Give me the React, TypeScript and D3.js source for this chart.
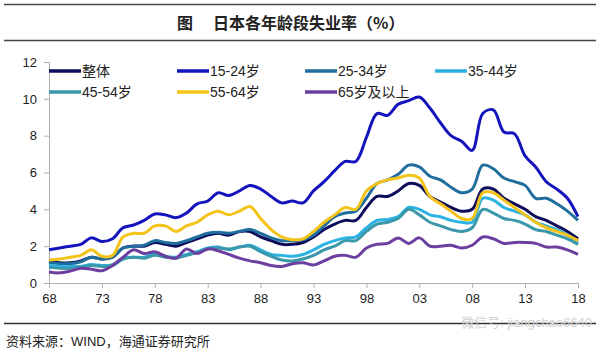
import React, { useEffect, useRef } from 'react'
import * as d3 from 'd3'

const years = d3.range(1968, 2019)
const xTickYears = [1968, 1973, 1978, 1983, 1988, 1993, 1998, 2003, 2008, 2013, 2018]
const yTicks = [0, 2, 4, 6, 8, 10, 12]

const seriesNames = ['整体', '15-24岁', '25-34岁', '35-44岁', '45-54岁', '55-64岁', '65岁及以上']
const seriesColors = ['#0d0d5c', '#1414bd', '#1f6e9e', '#2ab2e2', '#3b97aa', '#f4c31a', '#6b3fa0']

const overall = [1.2, 1.1, 1.1, 1.2, 1.4, 1.3, 1.4, 1.9, 2.0, 2.0, 2.2, 2.1, 2.0, 2.2, 2.4, 2.6, 2.7, 2.6, 2.8, 2.8,
  2.5, 2.3, 2.1, 2.1, 2.2, 2.5, 2.9, 3.2, 3.4, 3.4, 4.1, 4.7, 4.7, 5.0, 5.4, 5.3, 4.7, 4.4, 4.1, 3.9,
  4.0, 5.1, 5.1, 4.6, 4.3, 4.0, 3.6, 3.4, 3.1, 2.8, 2.4]
const age1524 = [1.8, 1.9, 2.0, 2.1, 2.45, 2.25, 2.4, 3.0, 3.15, 3.4, 3.75, 3.7, 3.55, 3.8, 4.3, 4.45, 4.9, 4.75, 5.0, 5.3,
  5.1, 4.7, 4.35, 4.45, 4.35, 5.0, 5.5, 6.1, 6.6, 6.6, 7.9, 9.2, 9.1, 9.7, 9.9, 10.1, 9.5, 8.7, 8.0, 7.7,
  7.2, 9.2, 9.4, 8.2, 8.1, 6.9, 6.3, 5.5, 5.1, 4.6, 3.6]
const age2534 = [1.1, 1.05, 1.05, 1.15, 1.4, 1.3, 1.4, 1.9, 2.0, 2.05, 2.3, 2.2, 2.15, 2.3, 2.5, 2.7, 2.75, 2.7, 2.8, 2.9,
  2.7, 2.45, 2.3, 2.3, 2.35, 2.6, 3.1, 3.6, 3.8, 3.9, 4.6, 5.4, 5.6, 5.9, 6.4, 6.3, 5.8, 5.6, 5.2, 4.9,
  5.1, 6.4, 6.2, 5.7, 5.5, 5.3, 4.6, 4.6, 4.3, 3.9, 3.4]
const age3544 = [0.95, 0.9, 0.9, 0.9, 1.0, 0.95, 1.0, 1.35, 1.4, 1.4, 1.6, 1.45, 1.4, 1.55, 1.7, 1.9, 1.95, 1.8, 1.95, 2.05,
  1.8, 1.55, 1.5, 1.45, 1.55, 1.8, 2.1, 2.3, 2.45, 2.5, 3.0, 3.4, 3.45, 3.6, 4.1, 4.0, 3.7, 3.6, 3.4, 3.3,
  3.3, 4.6, 4.5, 4.1, 3.9, 3.7, 3.3, 3.1, 2.9, 2.6, 2.2]
const age4554 = [0.85, 0.8, 0.8, 0.85, 0.95, 0.9, 0.95, 1.3, 1.4, 1.35, 1.5, 1.4, 1.35, 1.5, 1.65, 1.85, 1.9, 1.85, 1.95, 2.0,
  1.7, 1.45, 1.25, 1.2, 1.3, 1.5, 1.8, 2.0, 2.3, 2.3, 2.8, 3.2, 3.3, 3.5, 4.0, 3.7, 3.3, 3.1, 2.9, 2.8,
  3.0, 4.0, 3.8, 3.5, 3.4, 3.2, 2.9, 2.8, 2.6, 2.4, 2.1]
const age5564 = [1.25, 1.3, 1.4, 1.5, 1.8, 1.45, 1.5, 2.5, 2.7, 2.7, 3.1, 3.1, 2.8, 3.1, 3.3, 3.7, 3.9, 3.7, 3.9, 4.15,
  3.5, 2.9, 2.5, 2.35, 2.4, 2.8, 3.3, 3.7, 4.1, 4.0, 5.0, 5.4, 5.6, 5.7, 5.85, 5.7, 4.7, 4.3, 3.9, 3.5,
  3.5, 4.9, 4.9, 4.5, 4.1, 3.7, 3.3, 3.0, 2.8, 2.6, 2.3]
const age65 = [0.6, 0.55, 0.65, 0.8, 0.75, 0.67, 0.95, 1.4, 1.8, 1.6, 1.7, 1.45, 1.35, 1.85, 1.6, 1.85, 1.75, 1.55, 1.35, 1.2,
  1.1, 0.95, 0.9, 1.05, 1.1, 0.98, 1.2, 1.45, 1.5, 1.4, 1.9, 2.1, 2.15, 2.45, 2.15, 2.45, 2.0, 2.0, 2.05, 1.9,
  2.05, 2.5, 2.4, 2.15, 2.2, 2.2, 2.15, 1.95, 1.95, 1.8, 1.55]

const seriesValues = [overall, age1524, age2534, age3544, age4554, age5564, age65]

export default function App() {
  const svgRef = useRef<SVGSVGElement>(null)
  const width = 600
  const height = 354

  useEffect(() => {
    if (!svgRef.current) return
    const svg = d3.select(svgRef.current)
    svg.selectAll('*').remove()

    const font = 'Arial, "Liberation Sans", "Noto Sans CJK SC", sans-serif'
    const cjk = '"Noto Sans CJK SC", sans-serif'

    // Title block
    svg.append('line').attr('x1', 4).attr('x2', 596).attr('y1', 4.5).attr('y2', 4.5)
      .attr('stroke', '#444').attr('stroke-width', 1.5)
    svg.append('line').attr('x1', 4).attr('x2', 596).attr('y1', 40.5).attr('y2', 40.5)
      .attr('stroke', '#444').attr('stroke-width', 1.5)
    svg.append('text').attr('x', 177).attr('y', 28.5)
      .attr('font-family', cjk).attr('font-size', 16).attr('font-weight', 'bold').attr('fill', '#222')
      .text('图')
    svg.append('text').attr('x', 213).attr('y', 28.5)
      .attr('font-family', cjk).attr('font-size', 16).attr('font-weight', 'bold').attr('fill', '#222')
      .text('日本各年龄段失业率（%）')

    const x = d3.scaleLinear().domain([1968, 2018]).range([49, 578])
    const y = d3.scaleLinear().domain([0, 12]).range([283, 62])

    // Y axis
    const yAxis = svg.append('g').attr('transform', 'translate(49,0)')
      .call(d3.axisLeft(y).tickValues(yTicks).tickSize(5).tickPadding(7))
    yAxis.select('.domain').attr('stroke', '#b0b0b0')
    yAxis.selectAll('.tick line').attr('stroke', '#b0b0b0')
    yAxis.selectAll('.tick text').attr('font-family', font).attr('font-size', 13).attr('fill', '#222')

    // X axis
    const xAxis = svg.append('g').attr('transform', 'translate(0,283)')
      .call(d3.axisBottom(x).tickValues(xTickYears).tickSize(5).tickPadding(6)
        .tickFormat(d => String(d).slice(2)))
    xAxis.select('.domain').attr('stroke', '#b0b0b0')
    xAxis.selectAll('.tick line').attr('stroke', '#b0b0b0')
    xAxis.selectAll('.tick text').attr('font-family', font).attr('font-size', 13).attr('fill', '#222')

    // Lines
    const line = d3.line<number>()
      .x((_, i) => x(years[i]))
      .y(d => y(d))
      .curve(d3.curveCatmullRom.alpha(0.5))

    seriesValues.forEach((vals, i) => {
      svg.append('path').datum(vals)
        .attr('d', line)
        .attr('fill', 'none')
        .attr('stroke', seriesColors[i])
        .attr('stroke-width', 3)
        .attr('stroke-linejoin', 'round')
    })

    // Legend
    const legendCols = [49, 177, 305, 435]
    const legendRows = [71, 92]
    seriesNames.forEach((name, i) => {
      const lx = legendCols[i % 4]
      const ly = legendRows[Math.floor(i / 4)]
      const g = svg.append('g').attr('transform', `translate(${lx},${ly})`)
      g.append('line').attr('x1', 0).attr('x2', 32).attr('y1', 0).attr('y2', 0)
        .attr('stroke', seriesColors[i]).attr('stroke-width', 3.5)
      g.append('text').attr('x', 33).attr('y', 5)
        .attr('font-family', font).attr('font-size', 14).attr('fill', '#222')
        .text(name)
    })

    // Footer
    svg.append('line').attr('x1', 4).attr('x2', 596).attr('y1', 323.5).attr('y2', 323.5)
      .attr('stroke', '#333').attr('stroke-width', 1.5)
    svg.append('text').attr('x', 6).attr('y', 346)
      .attr('font-family', font).attr('font-size', 13).attr('fill', '#222')
      .text('资料来源：WIND，海通证券研究所')
    svg.append('text').attr('x', 592).attr('y', 327).attr('text-anchor', 'end')
      .attr('font-family', font).attr('font-size', 13).attr('fill', '#d0d0d0')
      .text('微信号: jiangchao6640')
  }, [])

  return (
    <svg ref={svgRef} width={width} height={height}
      style={{ position: 'absolute', left: 0, top: 0, background: '#fff' }} />
  )
}
